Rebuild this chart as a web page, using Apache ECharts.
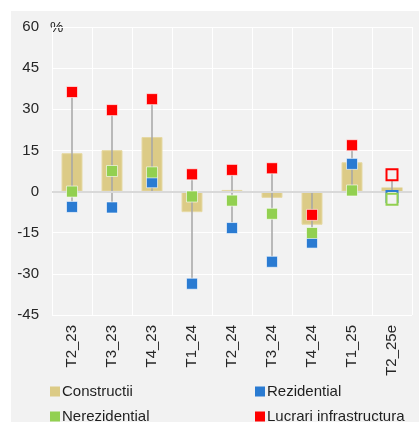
<!DOCTYPE html>
<html>
<head>
<meta charset="utf-8">
<script src="https://cdn.jsdelivr.net/npm/echarts@6/dist/echarts.min.js"></script>
<style>
  html, body { margin: 0; padding: 0; background: #ffffff; }
  #panel { position: absolute; left: 11px; top: 11px; width: 408px; height: 411px; background: #f2f2f2; }
  #myChart { width: 408px; height: 411px; }
</style>
</head>
<body>
<div id="panel"><div id="myChart"></div></div>
<script>
// date
var categories = ['T2_23', 'T3_23', 'T4_23', 'T1_24', 'T2_24', 'T3_24', 'T4_24', 'T1_25', 'T2_25e'];
var constructii = [14, 15.1, 19.9, -7.5, 0.6, -2.3, -12.1, 10.7, 1.5];
var rezidential = [-5.6, -5.8, 3.4, -33.6, -13.3, -25.6, -18.6, 10.1, -1.8];
var nerezidential = [0, 7.5, 7, -1.8, -3.3, -8.1, -15.1, 0.4, -2.8];
var lucrari = [36.3, 29.7, 33.7, 6.3, 7.9, 8.5, -8.5, 16.9, 6.1];
var yTicks = [-45, -30, -15, 0, 15, 30, 45, 60];

var estIndex = categories.length - 1; // ultima coloana = estimare (marcaje goale)
var fontName = '"Liberation Sans", Arial, sans-serif';

function markers (name, values, color) {
  var data = new Array();
  for (var i = 0; i < values.length; i++) {
    if (i === estIndex) {
      data.push({ value: values[i], itemStyle: { color: '#f2f2f2', borderColor: color, borderWidth: 2 } });
    } else {
      data.push(values[i]);
    }
  }
  return {
    name: name,
    type: 'scatter',
    symbol: 'rect',
    symbolSize: 11,
    z: 5,
    itemStyle: { color: color, borderColor: 'rgba(255,255,255,0.6)', borderWidth: 1, opacity: 1 },
    data: data
  };
}

// linia min-max pe fiecare categorie (include zero)
var rangeData = new Array();
for (var i = 0; i < categories.length; i++) {
  var vals = [0, rezidential[i], nerezidential[i], lucrari[i]];
  rangeData.push([i, Math.min.apply(null, vals), Math.max.apply(null, vals)]);
}

var barData = new Array();
for (var j = 0; j < constructii.length; j++) {
  if (j === estIndex) {
    barData.push({ value: constructii[j], itemStyle: { color: '#f2f2f2', borderColor: '#dccb86', borderWidth: 2 } });
  } else {
    barData.push(constructii[j]);
  }
}

var dom = document.getElementById('myChart');
var myChart = echarts.init(dom);

function legendAt (name, left, top) {
  return {
    data: [name],
    left: left,
    top: top,
    icon: 'rect',
    itemWidth: 10,
    itemHeight: 10,
    itemGap: 4,
    padding: 0,
    selectedMode: false,
    itemStyle: { borderWidth: 0 },
    textStyle: { fontSize: 15, color: '#1f1f1f', fontFamily: fontName, padding: [0, 0, 0, -3] }
  };
}

var option = {
  animation: false,
  textStyle: { fontFamily: fontName },
  grid: { left: 41, right: 7, top: 16, bottom: 107 },
  legend: [
    legendAt('Constructii', 39, 373),
    legendAt('Rezidential', 244, 373),
    legendAt('Nerezidential', 39, 398),
    legendAt('Lucrari infrastructura', 244, 398)
  ],
  graphic: [{
    type: 'text',
    left: 39,
    top: 9,
    style: { text: '%', fontSize: 15, fill: '#262626', fontFamily: fontName }
  }],
  xAxis: {
    type: 'category',
    data: categories,
    axisLine: { show: false },
    axisTick: { show: false },
    splitLine: { show: true, lineStyle: { color: '#ffffff', width: 1 } },
    axisLabel: { rotate: 90, fontSize: 15, color: '#262626', margin: 10, interval: 0 }
  },
  yAxis: {
    type: 'value',
    min: yTicks[0],
    max: yTicks[yTicks.length - 1],
    interval: 15,
    axisLine: { show: false },
    axisTick: { show: false },
    splitLine: { lineStyle: { color: '#ffffff', width: 1 } },
    axisLabel: { fontSize: 15, color: '#262626', margin: 13 }
  },
  series: [
    {
      name: 'Constructii',
      type: 'bar',
      barWidth: 21,
      z: 2,
      itemStyle: { color: '#dccb86', borderColor: '#e6d9a4', borderWidth: 1 },
      data: barData,
      markLine: {
        silent: true,
        symbol: 'none',
        label: { show: false },
        lineStyle: { color: '#d9d9d9', width: 2, type: 'solid' },
        data: [{ yAxis: 0 }]
      }
    },
    {
      name: 'range',
      type: 'custom',
      z: 4,
      silent: true,
      renderItem: function (params, api) {
        var p1 = api.coord([api.value(0), api.value(1)]);
        var p2 = api.coord([api.value(0), api.value(2)]);
        return {
          type: 'line',
          shape: { x1: p1[0], y1: p1[1], x2: p2[0], y2: p2[1] },
          style: { stroke: '#a6a6a6', lineWidth: 1.5 }
        };
      },
      encode: { x: 0, y: [1, 2] },
      data: rangeData
    },
    markers('Rezidential', rezidential, '#2a7bd2'),
    markers('Nerezidential', nerezidential, '#92d050'),
    markers('Lucrari infrastructura', lucrari, '#ff0000')
  ]
};

myChart.setOption(option);
window.addEventListener('resize', myChart.resize);
</script>
</body>
</html>
